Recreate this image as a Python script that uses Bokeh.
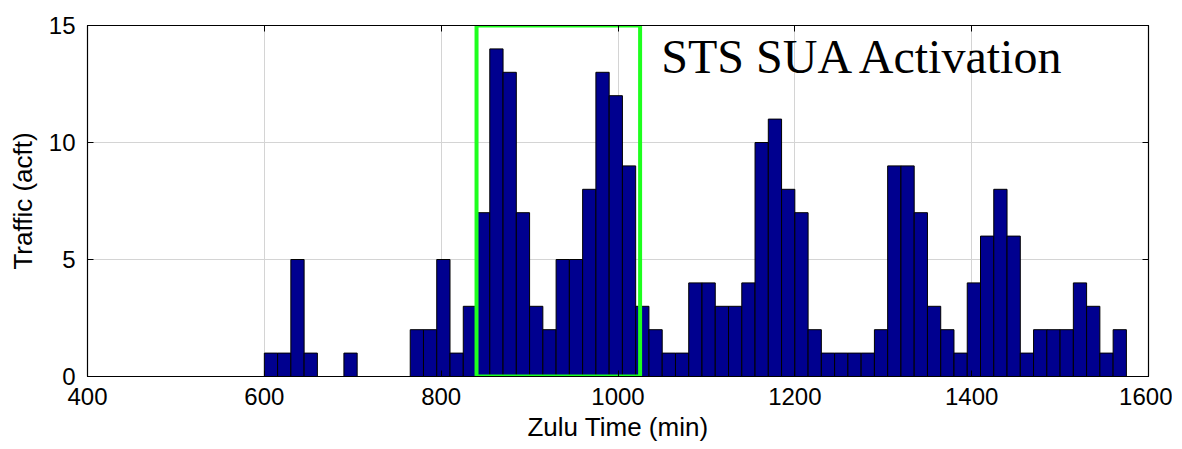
from bokeh.plotting import figure
from bokeh.models import FixedTicker, LinearAxis, Label
from bokeh.embed import file_html
from bokeh.resources import INLINE

# 15-minute bins starting at 600 min (Zulu)
bin_width = 15
bin_starts = list(range(600, 1575, 15))
counts = [1, 1, 5, 1, 0, 0, 1, 0, 0, 0, 0, 2, 2, 5, 1, 3, 7, 14, 13, 7,
          3, 2, 5, 5, 8, 13, 12, 9, 3, 2, 1, 1, 4, 4, 3, 3, 4, 10, 11, 8,
          7, 2, 1, 1, 1, 1, 2, 9, 9, 7, 3, 2, 1, 4, 6, 8, 6, 1, 2, 2,
          2, 4, 3, 1, 2]
bin_ends = [s + bin_width for s in bin_starts]

x_ticks = [400, 600, 800, 1000, 1200, 1400, 1600]
y_ticks = [0, 5, 10, 15]

activation_start = 840
activation_end = 1025
activation_label = "STS SUA Activation"

p = figure(width=1172, height=446, x_range=(400, 1600), y_range=(0, 15),
           output_backend="svg", toolbar_location=None)
p.min_border_left = 87
p.min_border_right = 24
p.min_border_top = 25
p.min_border_bottom = 70
p.outline_line_color = "black"
p.outline_line_width = 1.2
p.background_fill_color = "white"
p.border_fill_color = "white"

p.xgrid.grid_line_color = "#d4d4d4"
p.ygrid.grid_line_color = "#d4d4d4"
p.xgrid.ticker = FixedTicker(ticks=x_ticks)
p.ygrid.ticker = FixedTicker(ticks=y_ticks)

for ax in (p.xaxis[0], p.yaxis[0]):
    ax.major_tick_in = 6
    ax.major_tick_out = 0
    ax.minor_tick_line_color = None
    ax.axis_line_color = "black"
    ax.major_tick_line_color = "black"
    ax.major_label_text_font = "Liberation Sans"
    ax.major_label_text_font_size = "24px"
    ax.major_label_text_color = "black"
    ax.axis_label_text_font = "Liberation Sans"
    ax.axis_label_text_font_size = "26px"
    ax.axis_label_text_font_style = "normal"
    ax.axis_label_text_color = "black"

p.xaxis[0].ticker = FixedTicker(ticks=x_ticks)
p.yaxis[0].ticker = FixedTicker(ticks=y_ticks)
p.xaxis[0].axis_label = "Zulu Time (min)"
p.yaxis[0].axis_label = "Traffic (acft)"
p.xaxis[0].major_label_standoff = 11
p.xaxis[0].axis_label_standoff = 4
p.yaxis[0].major_label_standoff = 12
p.yaxis[0].axis_label_standoff = 8

top_ax = LinearAxis(ticker=FixedTicker(ticks=x_ticks), major_tick_in=6, major_tick_out=0,
                    minor_tick_line_color=None, major_label_text_font_size="0px",
                    axis_line_color="black")
right_ax = LinearAxis(ticker=FixedTicker(ticks=y_ticks), major_tick_in=6, major_tick_out=0,
                      minor_tick_line_color=None, major_label_text_font_size="0px",
                      axis_line_color="black")
top_ax.major_label_text_color = None
right_ax.major_label_text_color = None
p.add_layout(top_ax, "above")
p.add_layout(right_ax, "right")

p.quad(left=bin_starts, right=bin_ends, bottom=0, top=counts,
       fill_color="#00008F", line_color="black", line_width=1)

p.quad(left=[activation_start], right=[activation_end], bottom=[0], top=[15],
       fill_color=None, line_color="#1EFF1E", line_width=4)

p.add_layout(Label(x=1049, y=13.68, text=activation_label,
                   text_font="Liberation Serif", text_font_size="48px",
                   text_color="black", text_baseline="alphabetic"))

open("out.html", "w").write(file_html(p, INLINE))
